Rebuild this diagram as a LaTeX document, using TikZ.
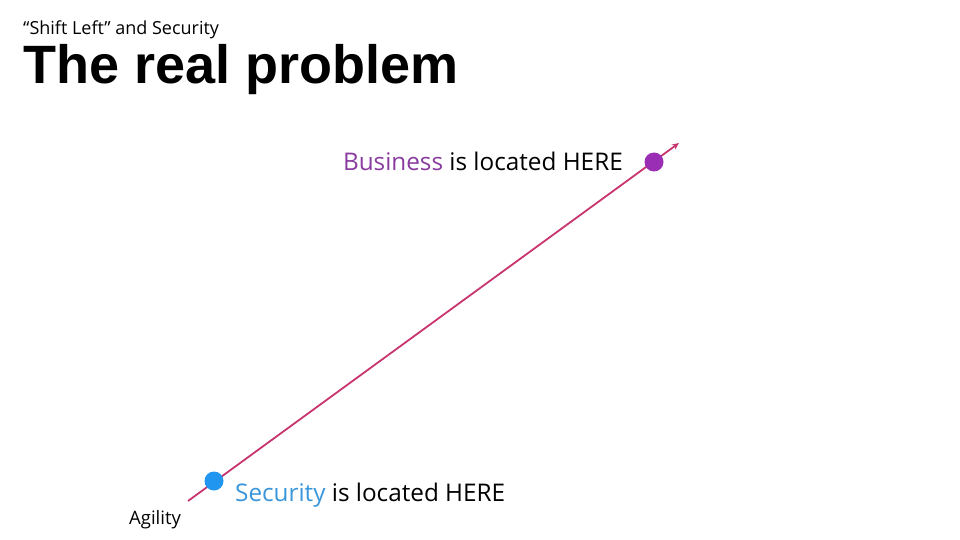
\documentclass[tikz,border=0pt]{standalone}
\usepackage{fontspec}
\setmainfont{Open Sans}
\newfontfamily\titlefont{Liberation Sans}
\newfontfamily\lightfont{Open Sans Light}
\usetikzlibrary{arrows.meta}
\definecolor{linec}{HTML}{C8346E}
\definecolor{bizc}{HTML}{8A3BA0}
\definecolor{bizdot}{HTML}{9A2FB5}
\definecolor{secc}{HTML}{3A96DA}
\definecolor{secdot}{HTML}{2196F0}
\begin{document}
\begin{tikzpicture}[x=1pt,y=-1pt,
  lbl/.style={inner sep=0pt, font=\fontsize{24.3}{28}\selectfont},
  dotc/.style={circle, inner sep=0pt, minimum size=19pt}]
\useasboundingbox (0,0) rectangle (960,540);
\node[anchor=base west, inner sep=0pt, font=\fontsize{18}{21}\selectfont] (sub) at (23,35) {“Shift Left” and Security};
\node[anchor=base west, inner sep=0pt, font=\titlefont\bfseries\fontsize{54}{60}\selectfont] (title) at (23,84) {The real problem};
\coordinate (start) at (188,501);
\coordinate (end) at (679,143);
\draw[linec, line width=1.8pt, -{Stealth[length=7pt,width=6pt]}] (start) -- (end);
\node[dotc, fill=bizdot] (bdot) at (654,162) {};
\node[dotc, fill=secdot] (sdot) at (214,481) {};
\node[lbl, anchor=base east] (biz) at (623,171) {\textcolor{bizc}{Business} is located HERE};
\node[lbl, anchor=base west] (sec) at (235,501) {\textcolor{secc}{Security} is located HERE};
\node[anchor=base west, inner sep=0pt, font=\fontsize{18.5}{21}\selectfont] (agi) at (129,524) {Agility};
\end{tikzpicture}
\end{document}
